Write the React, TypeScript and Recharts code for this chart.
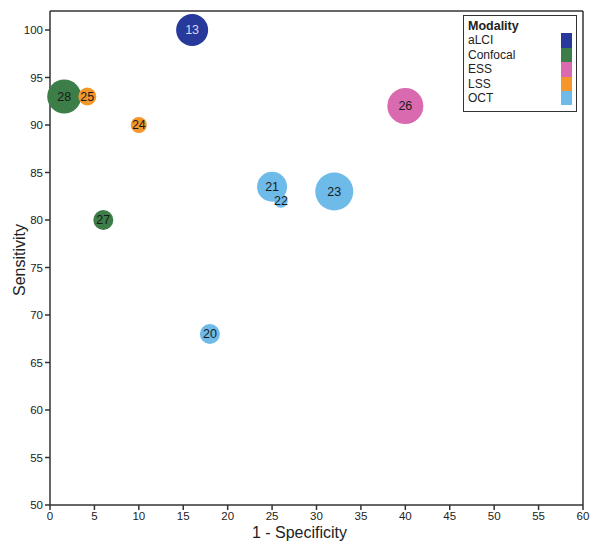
import React from 'react';
import { ScatterChart, Scatter, XAxis, YAxis, ZAxis, LabelList, ReferenceLine } from 'recharts';

const modalities = ['aLCI', 'Confocal', 'ESS', 'LSS', 'OCT'];
const colors = ['#27399a', '#3d7d47', '#d96aaf', '#f4962a', '#6ebae8'];
const labelColors = ['#d8d8f0', '#1a1a1a', '#1a1a1a', '#1a1a1a', '#1a1a1a'];

const studyIds = [13, 28, 27, 26, 25, 24, 21, 22, 23, 20];
const studyModality = ['aLCI', 'Confocal', 'Confocal', 'ESS', 'LSS', 'LSS', 'OCT', 'OCT', 'OCT', 'OCT'];
const falsePositiveRate = [16, 1.6, 6, 40, 4.2, 10, 25, 26, 32, 18];
const sensitivity = [100, 93, 80, 92, 93, 90, 83.5, 82, 83, 68];
const sampleSize = [256, 289, 100, 324, 81, 64, 225, 45, 361, 100];

const xTicks = [0, 5, 10, 15, 20, 25, 30, 35, 40, 45, 50, 55, 60];
const yTicks = [50, 55, 60, 65, 70, 75, 80, 85, 90, 95, 100];

const FONT = '"Liberation Sans", Arial, sans-serif';

const seriesData = modalities.map((m) =>
  studyIds
    .map((id, i) => ({ id, x: falsePositiveRate[i], y: sensitivity[i], n: sampleSize[i], m: studyModality[i] }))
    .filter((d) => d.m === m)
);

const XLabel = (props: any) => {
  const vb = props.viewBox || {};
  return (
    <text x={vb.x + vb.width / 2 - 17} y={vb.y + 33} textAnchor="middle" fill="#222" fontSize={16} fontFamily={FONT}>
      1 - Specificity
    </text>
  );
};

const YLabel = (props: any) => {
  const vb = props.viewBox || {};
  const cx = vb.x + 19;
  const cy = vb.y + vb.height / 2 + 2;
  return (
    <text x={cx} y={cy} transform={`rotate(-90 ${cx} ${cy})`} textAnchor="middle" dominantBaseline="central" fill="#222" fontSize={16} fontFamily={FONT}>
      Sensitivity
    </text>
  );
};

export default function App() {
  return (
    <div style={{ position: 'absolute', left: 0, top: 0, width: 601, height: 552, background: '#fff', fontFamily: FONT }}>
      <ScatterChart width={601} height={552} margin={{ top: 11, right: 18, bottom: 7, left: 0 }}>
        <XAxis
          type="number"
          dataKey="x"
          domain={[0, 60]}
          ticks={xTicks}
          interval={0}
          height={40}
          stroke="#333"
          strokeWidth={1.5}
          tickSize={5}
          tick={{ fill: '#222', fontSize: 11.5, fontFamily: FONT }}
          label={<XLabel />}
        />
        <YAxis
          type="number"
          dataKey="y"
          domain={[50, 102]}
          ticks={yTicks}
          interval={0}
          width={50}
          stroke="#333"
          strokeWidth={1.5}
          tickSize={5}
          tick={{ fill: '#222', fontSize: 11.5, fontFamily: FONT }}
          label={<YLabel />}
        />
        <ZAxis type="number" dataKey="n" domain={[0, 400]} range={[0, 1257]} />
        <ReferenceLine y={102} stroke="#333" strokeWidth={1.5} />
        <ReferenceLine x={60} stroke="#333" strokeWidth={1.5} />
        {seriesData.map((data, k) => (
          <Scatter key={modalities[k]} name={modalities[k]} data={data} fill={colors[k]} isAnimationActive={false}>
            <LabelList dataKey="id" position="center" fill={labelColors[k]} fontSize={12.5} fontFamily={FONT} />
          </Scatter>
        ))}
      </ScatterChart>
      <div
        style={{
          position: 'absolute',
          left: 463,
          top: 15,
          width: 114,
          height: 97,
          border: '1.5px solid #333',
          padding: '3px 4px 4px 4px',
          fontSize: 12,
          lineHeight: '14.4px',
          color: '#222',
          background: '#fff',
          boxSizing: 'border-box',
        }}
      >
        <div style={{ fontWeight: 'bold', fontSize: 12.5 }}>Modality</div>
        {modalities.map((m, k) => (
          <div key={m} style={{ display: 'flex', justifyContent: 'space-between', alignItems: 'stretch' }}>
            <span>{m}</span>
            <span style={{ width: 11, background: colors[k], display: 'inline-block', marginRight: 0 }} />
          </div>
        ))}
      </div>
    </div>
  );
}
